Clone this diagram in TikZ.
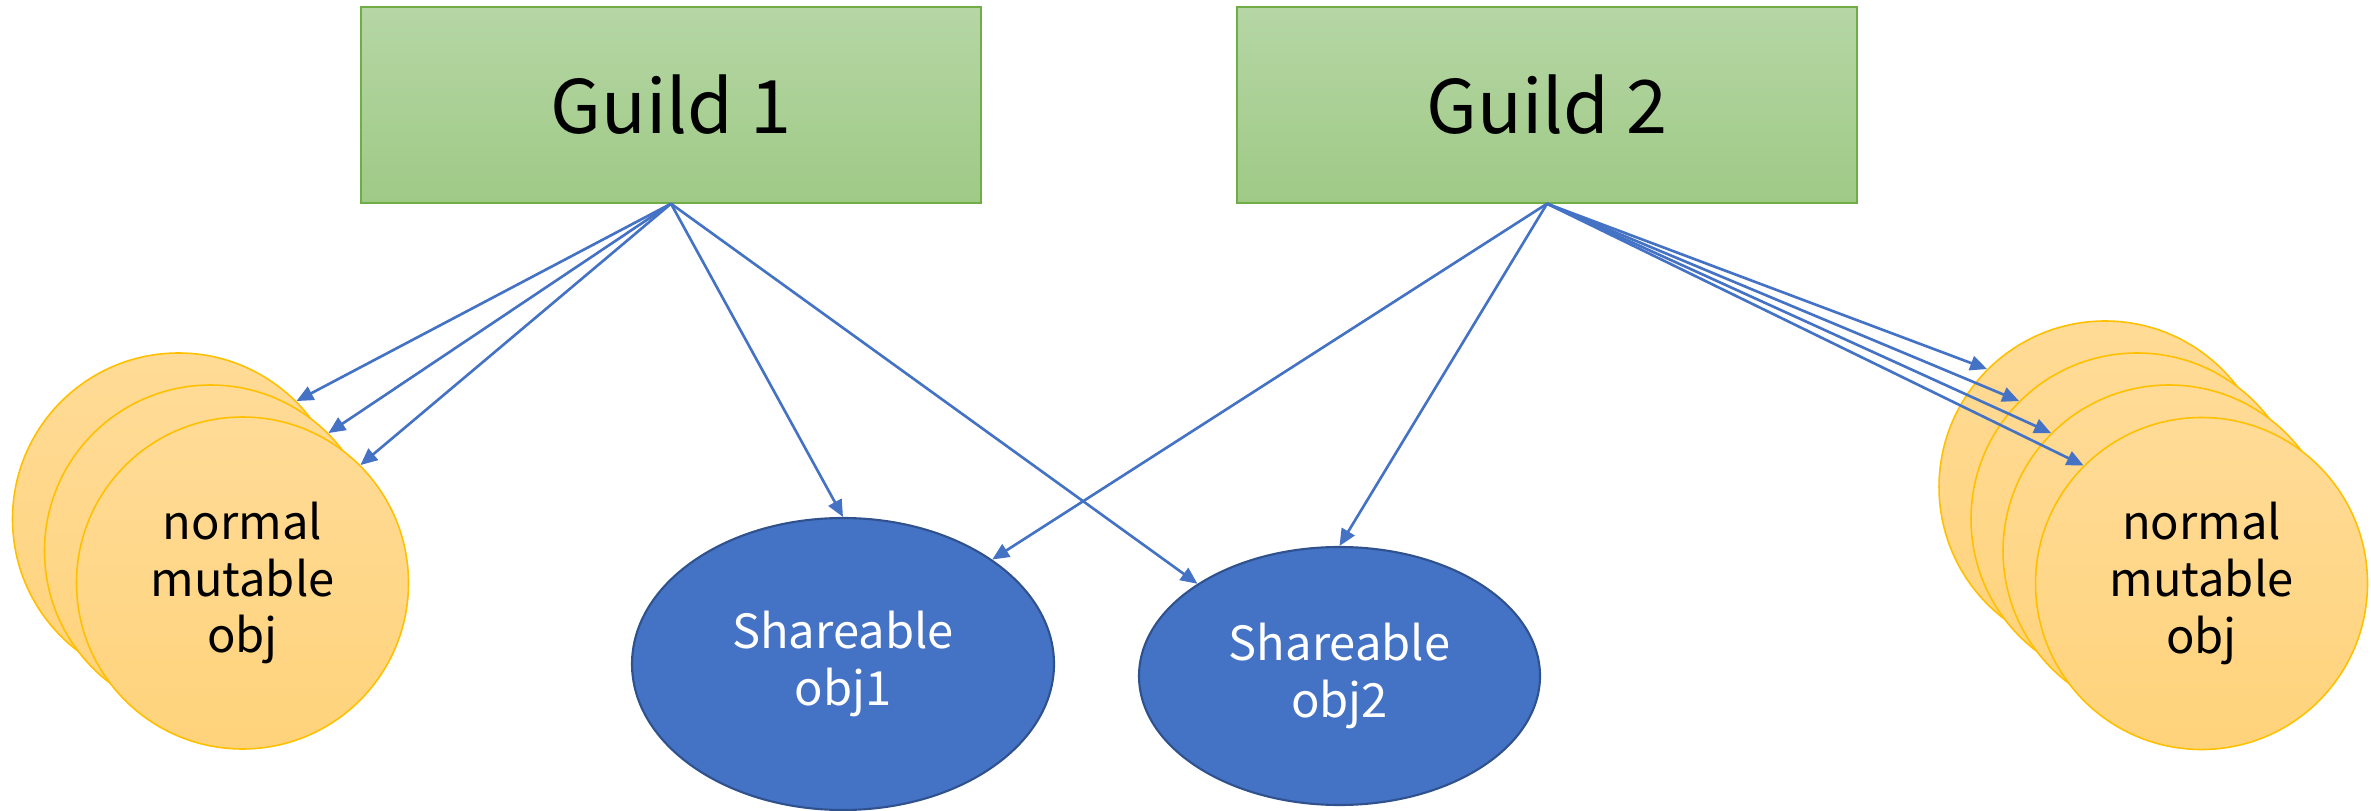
\documentclass[tikz,border=0pt]{standalone}
\usepackage{fontspec}
\setmainfont{Noto Sans CJK JP}
\usetikzlibrary{shapes.geometric,arrows.meta}

\definecolor{guildtop}{HTML}{B6D6A5}
\definecolor{guildbot}{HTML}{9FCA86}
\definecolor{guildedge}{HTML}{70AD47}
\definecolor{objtop}{HTML}{FFDB97}
\definecolor{objbot}{HTML}{FFD37B}
\definecolor{objedge}{HTML}{FFC000}
\definecolor{sharefill}{HTML}{4472C4}
\definecolor{shareedge}{HTML}{2F528F}
\definecolor{link}{HTML}{4472C4}

\tikzset{
  guild/.style={rectangle, draw=guildedge, line width=0.4pt,
    top color=guildtop, bottom color=guildbot,
    minimum width=6.2cm, minimum height=1.96cm, inner sep=0pt,
    font=\fontsize{21}{25}\selectfont},
  mutobj/.style={circle, draw=objedge, line width=0.45pt,
    top color=objtop, bottom color=objbot,
    minimum size=3.32cm, inner sep=0pt, align=center,
    font=\fontsize{13.4}{16.2}\selectfont},
  shareobj/.style={ellipse, draw=shareedge, line width=0.6pt,
    fill=sharefill, text=white, inner sep=0pt, align=center,
    font=\fontsize{13.4}{16.2}\selectfont},
  ref/.style={draw=link, line width=0.75pt,
    -{Triangle[length=4.8pt,width=4.2pt]}}
}

\begin{document}
\begin{tikzpicture}[x=0.1mm, y=-0.1mm]
  \useasboundingbox (0,0) rectangle (2371,811);

  % the two guilds
  \node[guild] (g1) at (671,105) {Guild 1};
  \node[guild] (g2) at (1547,105) {Guild 2};

  % objects owned by guild 1
  \node[mutobj] (l1) at (178.5,519) {};
  \node[mutobj] (l2) at (210.5,551) {};
  \node[mutobj] (l3) at (242.5,583) {normal\\mutable\\obj};

  % objects owned by guild 2
  \node[mutobj] (r1) at (2105,487) {};
  \node[mutobj] (r2) at (2137,519) {};
  \node[mutobj] (r3) at (2169,551) {};
  \node[mutobj] (r4) at (2201.5,583.5) {normal\\mutable\\obj};

  % shareable objects
  \node[shareobj, minimum width=4.22cm, minimum height=2.92cm] (s1) at (843,664) {Shareable\\obj1};
  \node[shareobj, minimum width=4.01cm, minimum height=2.58cm] (s2) at (1339.5,676) {Shareable\\obj2};

  % references
  \foreach \t in {l1,l2,l3}
    \draw[ref] (g1.south) -- (\t.north east);
  \draw[ref] (g1.south) -- (s1.north);
  \draw[ref] (g1.south) -- (s2.147);

  \draw[ref] (g2.south) -- (s1.35);
  \draw[ref] (g2.south) -- (s2.north);
  \foreach \t in {r1,r2,r3,r4}
    \draw[ref] (g2.south) -- (\t.north west);
\end{tikzpicture}
\end{document}
